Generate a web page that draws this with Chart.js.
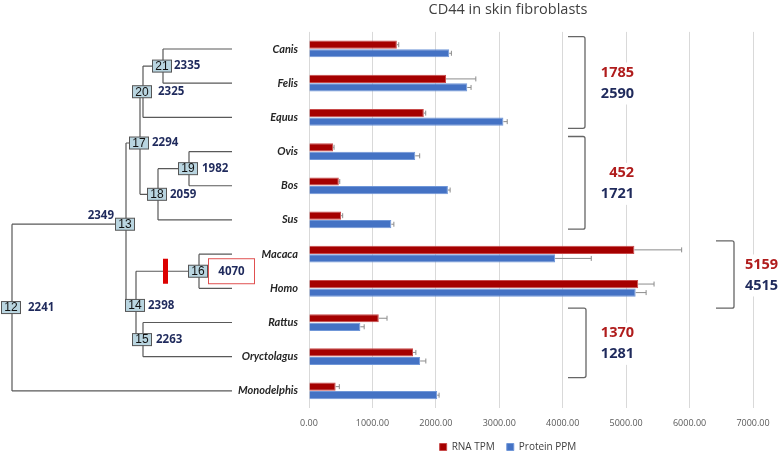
<!DOCTYPE html>
<html>
<head>
<meta charset="utf-8">
<script src="https://cdn.jsdelivr.net/npm/chart.js@4/dist/chart.umd.min.js"></script>
<style>
  html, body { margin: 0; background: #fff; }
  #wrap { width: 780px; height: 452px; position: relative; }
</style>
</head>
<body>
<div id="wrap"><canvas id="chart"></canvas></div>
<script>
// CD44 expression in skin fibroblasts, with the species tree drawn on the left.
const species    = ["Canis", "Felis", "Equus", "Ovis", "Bos", "Sus", "Macaca", "Homo", "Rattus", "Oryctolagus", "Monodelphis"]
const rnaTpm     = [1385, 2160, 1810, 380, 470, 506, 5130, 5190, 1100, 1640, 420]
const rnaErr     = [30, 470, 30, 15, 15, 25, 745, 250, 130, 45, 58]
const proteinPpm = [2210, 2495, 3065, 1675, 2190, 1298, 3880, 5150, 810, 1752, 2021]
const proteinErr = [35, 60, 60, 70, 35, 40, 570, 165, 60, 90, 30]
const xTicks     = [0, 1000, 2000, 3000, 4000, 5000, 6000, 7000]

// ancestral-node labels of the tree
const nodeIds    = [12, 13, 14, 15, 16, 17, 18, 19, 20, 21]
const nodeValues = [2241, 2349, 2398, 2263, 4070, 2294, 2059, 1982, 2325, 2335]

// clade averages shown next to the brackets
const groupRna     = [1785, 452, 5159, 1370]
const groupProtein = [2590, 1721, 4515, 1281]

const RED  = "#a50000"
const BLUE = "#4472c4"
const NAVY = "#1f2a5c"

// tree topology + where each node's vertical line sits (px)
const tree = {
  21: { kids: ["Canis", "Felis"], x: 163, dx: 11 },
  20: { kids: [21, "Equus"], x: 143, dx: 15 },
  19: { kids: ["Ovis", "Bos"], x: 189, dx: 13 },
  18: { kids: [19, "Sus"], x: 158, dx: 12 },
  17: { kids: [20, 18], x: 140, dx: 12 },
  16: { kids: ["Macaca", "Homo"], x: 199 },
  15: { kids: ["Rattus", "Oryctolagus"], x: 143, dx: 13 },
  14: { kids: [16, 15], x: 136, dx: 12 },
  13: { kids: [17, 14], x: 126 },
  12: { kids: [13, "Monodelphis"], x: 12, dx: 16 },
}
const LEAF_X = 232

// bracket spans in category units, x in px
const brackets = [
  { from: -0.36, to: 2.32, left: 568, right: 585, textX: 634, align: "right" },
  { from: 2.56,  to: 5.27, left: 568, right: 585, textX: 634, align: "right" },
  { from: 5.61,  to: 7.58, left: 716, right: 734, textX: 745, align: "left" },
  { from: 7.58,  to: 9.61, left: 568, right: 586, textX: 634, align: "right" },
]

// the y labels are wider than the narrow axis box; let them spill left
const wideLabels = {
  id: "wideLabels",
  beforeDraw(chart) { chart.scales.y.left = 0 }
}

const errorBars = {
  id: "errorBars",
  afterDatasetsDraw(chart) {
    const { ctx } = chart
    const x = chart.scales.x
    const errs = [rnaErr, proteinErr]
    ctx.save()
    ctx.strokeStyle = "#8c8c8c"
    ctx.lineWidth = 1
    chart.data.datasets.forEach((ds, di) => {
      chart.getDatasetMeta(di).data.forEach((bar, i) => {
        const x1 = x.getPixelForValue(ds.data[i] + errs[di][i])
        ctx.beginPath()
        ctx.moveTo(bar.x, bar.y)
        ctx.lineTo(x1, bar.y)
        ctx.moveTo(x1, bar.y - 2.5)
        ctx.lineTo(x1, bar.y + 2.5)
        ctx.stroke()
      })
    })
    ctx.restore()
  }
}

const phyloTree = {
  id: "phyloTree",
  afterDraw(chart) {
    const { ctx } = chart
    const y = chart.scales.y
    const nodeY = (k) => typeof k === "string"
      ? y.getPixelForValue(species.indexOf(k))
      : tree[k].kids.reduce((s, c) => s + nodeY(c), 0) / tree[k].kids.length
    const nodeX = (k) => typeof k === "string" ? LEAF_X : tree[k].x

    ctx.save()
    ctx.strokeStyle = "#595959"
    ctx.lineWidth = 1.2
    for (const id of nodeIds) {
      const n = tree[id]
      const ys = n.kids.map(nodeY)
      ctx.beginPath()
      ctx.moveTo(n.x, Math.min(...ys))
      ctx.lineTo(n.x, Math.max(...ys))
      n.kids.forEach((k, j) => {
        ctx.moveTo(n.x, ys[j])
        ctx.lineTo(nodeX(k), ys[j])
      })
      ctx.stroke()
    }

    // red mark on the primate branch
    const y16 = nodeY(16)
    ctx.fillStyle = "#dc0000"
    ctx.fillRect(163, y16 - 12.5, 5, 25)

    nodeIds.forEach((id, i) => {
      const n = tree[id]
      const cy = nodeY(id)
      const bx = n.x - 1
      ctx.fillStyle = "#b9d5e0"
      ctx.fillRect(bx - 9.5, cy - 6, 19, 12)
      ctx.strokeStyle = "#555"
      ctx.lineWidth = 1
      ctx.strokeRect(bx - 9.5, cy - 6, 19, 12)
      ctx.fillStyle = "#111"
      ctx.font = "12px 'Liberation Sans', sans-serif"
      ctx.textAlign = "center"
      ctx.textBaseline = "middle"
      ctx.fillText(String(id), bx, cy + 0.5)

      ctx.fillStyle = NAVY
      ctx.font = "bold 11.5px 'Open Sans', sans-serif"
      if (id === 13) {
        ctx.textAlign = "right"
        ctx.fillText(String(nodeValues[i]), bx - 11, cy - 9)
      } else if (id === 16) {
        ctx.strokeStyle = "#e05050"
        ctx.strokeRect(208.5, cy - 12.5, 46, 25)
        ctx.textAlign = "center"
        ctx.fillText(String(nodeValues[i]), 231.5, cy)
      } else {
        ctx.textAlign = "left"
        ctx.fillText(String(nodeValues[i]), n.x + n.dx, cy)
      }
    })

    // clade brackets with averages
    brackets.forEach((b, i) => {
      const top = y.getPixelForValue(b.from)
      const bot = y.getPixelForValue(b.to)
      ctx.strokeStyle = "#666"
      ctx.lineWidth = 1.3
      ctx.beginPath()
      ctx.moveTo(b.left, top)
      ctx.lineTo(b.right - 2, top)
      ctx.quadraticCurveTo(b.right, top, b.right, top + 2)
      ctx.lineTo(b.right, bot - 2)
      ctx.quadraticCurveTo(b.right, bot, b.right - 2, bot)
      ctx.lineTo(b.left, bot)
      ctx.stroke()

      const mid = (top + bot) / 2
      ctx.font = "bold 14.5px 'Open Sans', sans-serif"
      ctx.textBaseline = "middle"
      ctx.textAlign = b.align
      const w = Math.max(ctx.measureText(String(groupRna[i])).width, ctx.measureText(String(groupProtein[i])).width)
      const x0 = b.align === "right" ? b.textX - w : b.textX
      ctx.fillStyle = "#fff"
      ctx.fillRect(x0 - 3, mid - 20, w + 6, 42)
      ctx.fillStyle = "#b01c1c"
      ctx.fillText(String(groupRna[i]), b.textX, mid - 9.5)
      ctx.fillStyle = NAVY
      ctx.fillText(String(groupProtein[i]), b.textX, mid + 11.5)
    })
    ctx.restore()
  }
}

new Chart(document.getElementById("chart"), {
  type: "bar",
  data: {
    labels: species,
    datasets: [
      {
        label: "RNA TPM",
        data: rnaTpm,
        backgroundColor: RED,
        borderColor: "#c84a4a",
        borderWidth: 1,
        categoryPercentage: 0.5,
        barPercentage: 0.96,
      },
      {
        label: "Protein PPM",
        data: proteinPpm,
        backgroundColor: BLUE,
        borderColor: "#7097d8",
        borderWidth: 1,
        categoryPercentage: 0.5,
        barPercentage: 0.96,
      }
    ]
  },
  options: {
    indexAxis: "y",
    responsive: true,
    maintainAspectRatio: false,
    animation: false,
    layout: { padding: { left: 263, right: 27, top: 0, bottom: -10 } },
    plugins: {
      title: {
        display: true,
        text: "CD44 in skin fibroblasts",
        color: "#404040",
        font: { family: "Open Sans", size: 14.5, weight: "normal" },
        padding: { top: 1, bottom: 13.5 }
      },
      legend: {
        position: "bottom",
        labels: {
          boxWidth: 7,
          boxHeight: 7,
          color: "#404040",
          font: { family: "Open Sans", size: 10 },
          padding: 12
        }
      },
      tooltip: { enabled: false }
    },
    scales: {
      x: {
        min: 0,
        max: 7000,
        afterBuildTicks: (axis) => { axis.ticks = xTicks.map(v => ({ value: v })) },
        afterFit: (axis) => { axis.height = 22 },
        ticks: {
          callback: (v) => Number(v).toFixed(2),
          color: "#595959",
          font: { family: "Open Sans", size: 9 },
          padding: 10,
          maxRotation: 0,
          autoSkip: false
        },
        grid: { color: "#d9d9d9", drawTicks: false },
        border: { display: false }
      },
      y: {
        ticks: {
          color: "#262626",
          font: { family: "Lato", size: 11, weight: "bold", style: "italic" },
          padding: 11,
          autoSkip: false
        },
        grid: { display: false, drawTicks: false },
        border: { display: false },
        afterFit: (axis) => { axis.width = 46 }
      }
    }
  },
  plugins: [wideLabels, errorBars, phyloTree]
})
</script>
</body>
</html>
